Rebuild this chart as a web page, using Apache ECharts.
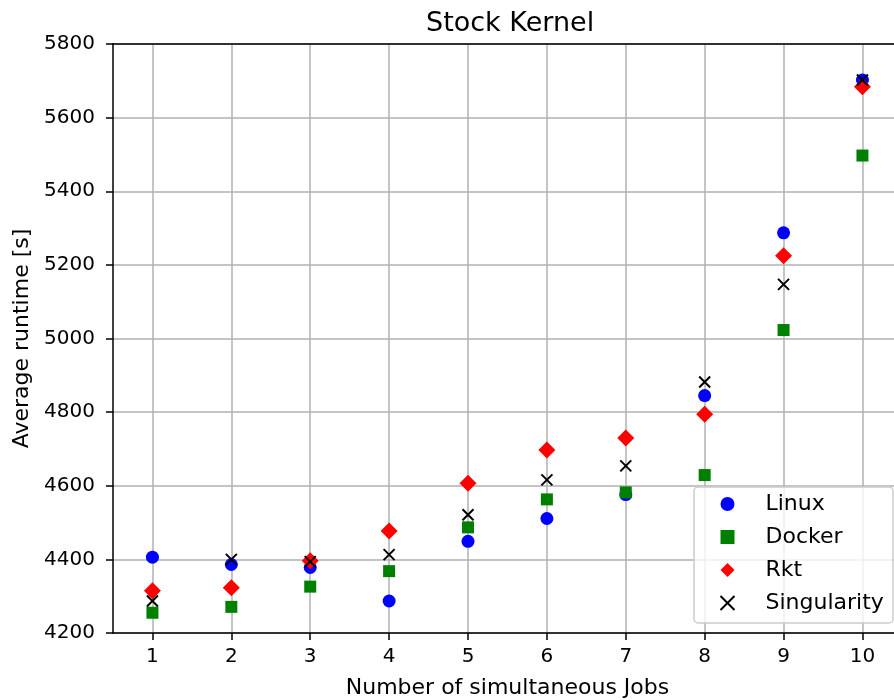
<!DOCTYPE html>
<html><head><meta charset="utf-8">
<script src="https://cdn.jsdelivr.net/npm/echarts@6/dist/echarts.min.js"></script>
<style>html,body{margin:0;padding:0;background:#fff}#c{width:894px;height:700px}</style>
</head><body><div id="c"></div>
<script>
const jobs = [1, 2, 3, 4, 5, 6, 7, 8, 9, 10];
const linux = [4406, 4386, 4378, 4287, 4449, 4511, 4576, 4845, 5287, 5702];
const docker = [4255, 4271, 4326, 4368, 4487, 4563, 4582, 4629, 5023, 5497];
const rkt = [4315, 4323, 4396, 4477, 4607, 4697, 4730, 4794, 5225, 5684];
const singularity = [4287, 4400, 4394, 4413, 4521, 4616, 4654, 4882, 5147, 5702];
const yTicks = [4200, 4400, 4600, 4800, 5000, 5200, 5400, 5600, 5800];

const FONT = 'DejaVu Sans';
const pts = arr => jobs.map((j, i) => [j, arr[i]]);
const xPath = 'path://M0,0L10,10M10,0L0,10';

const chart = echarts.init(document.getElementById('c'), null, {renderer: 'canvas'});
chart.setOption({
  animation: false,
  textStyle: {fontFamily: FONT},
  title: {text: 'Stock Kernel', left: 421, top: 5,
    textStyle: {fontFamily: FONT, fontSize: 27, fontWeight: 'normal', color: '#000'}},
  grid: {left: 113, top: 44, right: 0, bottom: 67, show: false, outerBoundsMode: 'none', containLabel: false},
  xAxis: [{
    type: 'value', min: 0.5, max: 10.4,
    name: 'Number of simultaneous Jobs', nameLocation: 'middle', nameGap: 44,
    nameTextStyle: {fontFamily: FONT, fontSize: 22, color: '#000', padding: [0, 0, 0, 8]},
    axisLine: {show: true, onZero: false, lineStyle: {color: '#000', width: 1.5}},
    axisTick: {show: true, length: 7, customValues: jobs, lineStyle: {color: '#000', width: 1.5}},
    axisLabel: {customValues: jobs, fontFamily: FONT, fontSize: 20, color: '#000', margin: 14},
    splitLine: {show: true, lineStyle: {color: '#b0b0b0', width: 1.5}}
  }, {
    type: 'value', position: 'top', min: 0.5, max: 10.4,
    axisLine: {show: true, onZero: false, lineStyle: {color: '#000', width: 1.5}},
    axisTick: {show: false}, axisLabel: {show: false}, splitLine: {show: false}
  }],
  yAxis: {
    type: 'value', min: 4200, max: 5800, interval: 200,
    name: 'Average runtime [s]', nameLocation: 'middle', nameGap: 80, nameRotate: 90,
    nameTextStyle: {fontFamily: FONT, fontSize: 22, color: '#000'},
    axisLine: {show: true, onZero: false, lineStyle: {color: '#000', width: 1.5}},
    axisTick: {show: true, length: 7, lineStyle: {color: '#000', width: 1.5}},
    axisLabel: {fontFamily: FONT, fontSize: 20, color: '#000', margin: 18,
      formatter: v => yTicks.includes(v) ? String(v) : ''},
    splitLine: {show: true, lineStyle: {color: '#b0b0b0', width: 1.5}}
  },
  legend: {
    orient: 'vertical', left: 718, top: 493, padding: 0,
    itemWidth: 14, itemHeight: 14, itemGap: 11,
    textStyle: {fontFamily: FONT, fontSize: 22, color: '#000', padding: [0, 0, 0, 26]},
    data: ['Linux', 'Docker', 'Rkt', 'Singularity']
  },
  graphic: [{
    type: 'rect', z: 3, silent: true,
    shape: {x: 694, y: 487, width: 199, height: 136, r: 4},
    style: {fill: 'rgba(255,255,255,0.8)', stroke: '#cccccc', lineWidth: 1.5}
  }],
  series: [
    {name: 'Linux', type: 'scatter', data: pts(linux), symbol: 'circle', symbolSize: 13,
      itemStyle: {color: '#0000ff', opacity: 1}},
    {name: 'Docker', type: 'scatter', data: pts(docker), symbol: 'rect', symbolSize: 12,
      itemStyle: {color: '#008000', opacity: 1}},
    {name: 'Rkt', type: 'scatter', data: pts(rkt), symbol: 'diamond', symbolSize: 17,
      itemStyle: {color: '#ff0000', opacity: 1}},
    {name: 'Singularity', type: 'scatter', data: pts(singularity), symbol: xPath, symbolSize: 11,
      itemStyle: {color: 'none', borderColor: '#000', borderWidth: 2, opacity: 1}}
  ]
});
</script></body></html>
